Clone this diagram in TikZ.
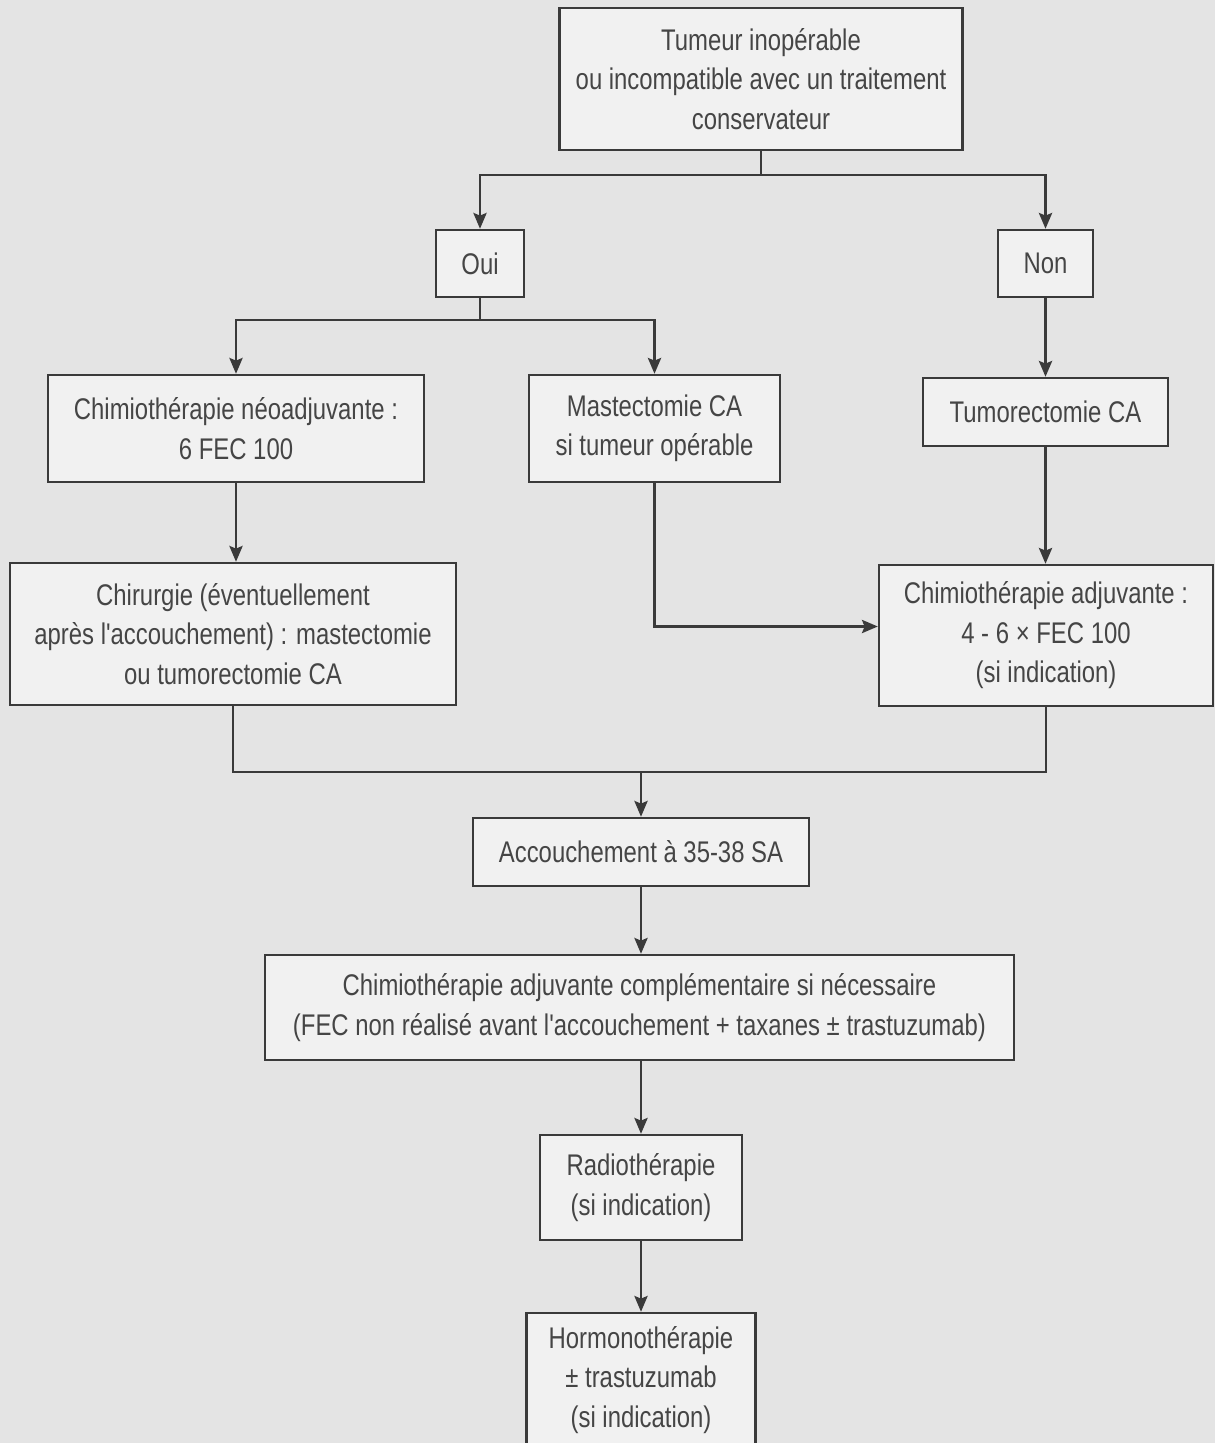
\documentclass[tikz,border=0pt]{standalone}
\usepackage{fontspec}
\usepackage{tikz}
\usetikzlibrary{arrows.meta,positioning,calc}
\newfontfamily\boxfont[FakeStretch=0.8]{Liberation Sans}
\definecolor{scanbg}{HTML}{e4e4e4}
\definecolor{boxfill}{HTML}{f1f1f1}
\definecolor{inkline}{HTML}{3a3a3a}
\definecolor{inktext}{HTML}{454545}
\tikzset{
  stepbox/.style={draw=inkline, line width=1.4pt, fill=boxfill, align=center,
    text=inktext, font=\boxfont\fontsize{17}{22.5}\selectfont, inner sep=2pt},
  link/.style={draw=inkline, line width=1.4pt},
  arrow/.style={link, -{Stealth[length=9pt,width=7.5pt,inset=1.5pt]}}
}

\begin{document}
\begin{tikzpicture}[x=0.02cm, y=-0.02cm]
\useasboundingbox (0,0) rectangle (1215,1443);
\clip (0,0) rectangle (1215,1443);
\fill[scanbg] (0,0) rectangle (1215,1443);
% nodes
\node[stepbox, minimum width=8.06cm, minimum height=2.84cm] (top) at (761,79)
  {Tumeur inopérable\\ ou incompatible avec un traitement\\ conservateur};
\node[stepbox, minimum width=1.76cm, minimum height=1.34cm] (oui) at (480,263.5) {Oui};
\node[stepbox, minimum width=1.9cm, minimum height=1.34cm] (non) at (1045.5,263.5) {Non};
\node[stepbox, minimum width=7.52cm, minimum height=2.14cm] (neo) at (236,428.5)
  {Chimiothérapie néoadjuvante :\\ 6 FEC 100};
\node[stepbox, minimum width=5.02cm, minimum height=2.14cm] (mast) at (654.5,428.5)
  {Mastectomie CA\\ si tumeur opérable};
\node[stepbox, minimum width=4.9cm, minimum height=1.36cm] (tumo) at (1045.5,412)
  {Tumorectomie CA};
\node[stepbox, minimum width=8.92cm, minimum height=2.84cm] (chir) at (233,634)
  {Chirurgie (éventuellement\\ après l'accouchement) : mastectomie\\ ou tumorectomie CA};
\node[stepbox, minimum width=6.68cm, minimum height=2.82cm] (adj) at (1046,635.5)
  {Chimiothérapie adjuvante :\\ 4 - 6 × FEC 100\\ (si indication)};
\node[stepbox, minimum width=6.72cm, minimum height=1.36cm] (acc) at (641,852)
  {Accouchement à 35-38 SA};
\node[stepbox, minimum width=14.98cm, minimum height=2.1cm] (comp) at (639.5,1007.5)
  {Chimiothérapie adjuvante complémentaire si nécessaire\\ (FEC non réalisé avant l'accouchement + taxanes ± trastuzumab)};
\node[stepbox, minimum width=4.04cm, minimum height=2.1cm] (radio) at (641,1187.5)
  {Radiothérapie\\ (si indication)};
\node[stepbox, minimum width=4.58cm, minimum height=2.68cm] (hormo) at (641,1380)
  {Hormonothérapie\\ ± trastuzumab\\ (si indication)};
% connectors
\coordinate (j1) at (761,175);
\coordinate (j2) at (480,320);
\coordinate (j3) at (641,772);
\draw[link] (top.south) -- (j1);
\draw[arrow] (j1) -| (oui.north);
\draw[arrow] (j1) -| (non.north);
\draw[link] (oui.south) -- (j2);
\draw[arrow] (j2) -| (neo.north);
\draw[arrow] (j2) -| (mast.north);
\draw[arrow] (non) -- (tumo);
\draw[arrow] (neo) -- (neo.south |- chir.north);
\draw[arrow] (mast.south) |- ([yshift=0.18cm]adj.west);
\draw[arrow] (tumo) -- (tumo.south |- adj.north);
\draw[link] (chir.south) |- (j3) -| (adj.south);
\draw[arrow] (j3) -- (acc.north);
\draw[arrow] (acc) -- (acc.south |- comp.north);
\draw[arrow] (radio.north |- comp.south) -- (radio);
\draw[arrow] (radio) -- (hormo);
\end{tikzpicture}
\end{document}
